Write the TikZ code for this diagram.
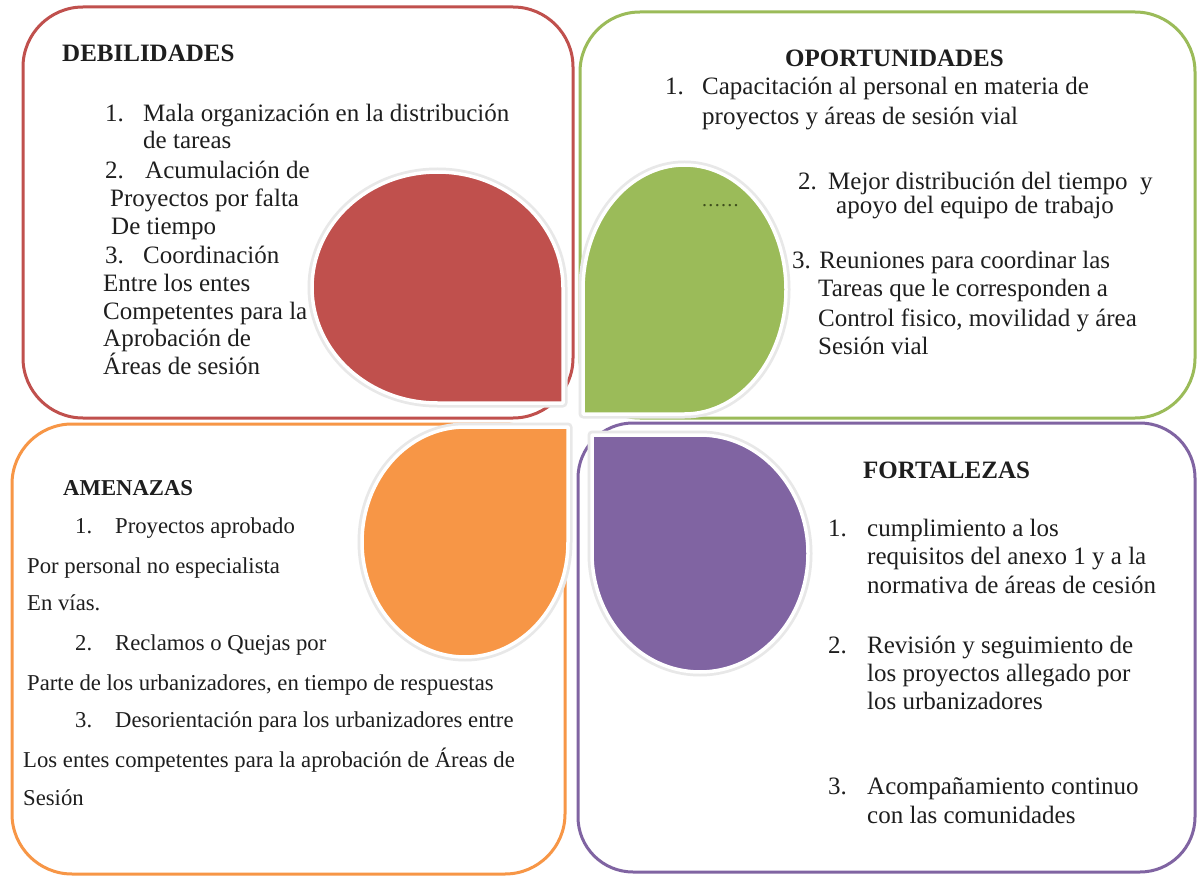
\documentclass[tikz,border=0pt]{standalone}
\usepackage{fontspec}
\setmainfont{Liberation Serif}
\definecolor{cred}{HTML}{C0504D}
\definecolor{cgreen}{HTML}{9BBB59}
\definecolor{corange}{HTML}{F79646}
\definecolor{cpurple}{HTML}{8064A2}
\definecolor{ctext}{HTML}{1E1E1E}
\definecolor{cdots}{HTML}{3F4F1E}
\begin{document}
\begin{tikzpicture}[x=1pt,y=-1pt,
  txt/.style={anchor=west, inner sep=0pt, font=\fontsize{25}{30}\selectfont, text=ctext, text height=17.5pt, text depth=5pt},
  stxt/.style={anchor=west, inner sep=0pt, font=\fontsize{22.7}{27}\selectfont, text=ctext, text height=16pt, text depth=4.5pt},
  head/.style={txt, font=\fontsize{25}{30}\selectfont\bfseries},
  shead/.style={stxt, font=\fontsize{22.7}{27}\selectfont\bfseries},
  box/.style={line width=3pt, rounded corners=60pt},
  petalshadow/.style={draw=black!9, line width=9pt, line join=round},
  petal/.style={draw=white, line width=3.5pt, line join=round}]
\path[use as bounding box, fill=white] (0,0) rectangle (1197,877);

% boxes
\draw[box, draw=cred] (23,7) rectangle (573,418);
\draw[box, draw=cgreen] (580,12) rectangle (1195,418);
\draw[box, draw=corange] (12,424) rectangle (565,874);
\draw[box, draw=cpurple, rounded corners=55pt] (578,423) rectangle (1195,872);

% petals
\path[petalshadow] (437.5,403) arc[start angle=90, end angle=360, x radius=125.5, y radius=115.5] -- (563,403) -- cycle;
\path[petalshadow] (684.5,414) arc[start angle=90, end angle=-180, x radius=101.5, y radius=124.5] -- (583,414) -- cycle;
\path[petalshadow] (568,542) arc[start angle=0, end angle=270, x radius=103, y radius=115] -- (568,427) -- cycle;
\path[petalshadow] (700,435) arc[start angle=-90, end angle=180, x radius=108, y radius=118.5] -- (592,435) -- cycle;
\path[petal, fill=cred] (437.5,403) arc[start angle=90, end angle=360, x radius=125.5, y radius=115.5] -- (563,403) -- cycle;
\path[petal, fill=cgreen] (684.5,414) arc[start angle=90, end angle=-180, x radius=101.5, y radius=124.5] -- (583,414) -- cycle;
\path[petal, fill=corange] (568,542) arc[start angle=0, end angle=270, x radius=103, y radius=115] -- (568,427) -- cycle;
\path[petal, fill=cpurple] (700,435) arc[start angle=-90, end angle=180, x radius=108, y radius=118.5] -- (592,435) -- cycle;

% DEBILIDADES
\node[head] (dh) at (62,55) {DEBILIDADES};
\node[txt] (d1n) at (105,115) {1.};
\node[txt] (d1) at (143,115) {Mala organización en la distribución};
\node[txt] (d1b) at (143,142) {de tareas};
\node[txt] (d2n) at (105,172) {2.};
\node[txt] (d2) at (145,172) {Acumulación de};
\node[txt] (d2b) at (110,200) {Proyectos por falta};
\node[txt] (d2c) at (111,228) {De tiempo};
\node[txt] (d3n) at (105,257) {3.};
\node[txt] (d3) at (143,257) {Coordinación};
\node[txt] (d3b) at (103,285) {Entre los entes};
\node[txt] (d3c) at (103,313) {Competentes para la};
\node[txt] (d3d) at (103,340) {Aprobación de};
\node[txt] (d3e) at (103,368) {Áreas de sesión};

% OPORTUNIDADES
\node[head] (oh) at (785,60) {OPORTUNIDADES};
\node[txt] (o1n) at (665,88) {1.};
\node[txt] (o1) at (702,88) {Capacitación al personal en materia de};
\node[txt] (o1b) at (702,118) {proyectos y áreas de sesión vial};
\node[txt] (o2n) at (798,183) {2.};
\node[txt] (o2) at (828,183) {Mejor distribución del tiempo\ \ y};
\node[txt] (o2b) at (836,207) {apoyo del equipo de trabajo};
\node[anchor=west, inner sep=0pt, font=\fontsize{20}{22}\selectfont, text=cdots] (dots) at (703,206) {\kern-1pt.\kern1.3pt.\kern1.3pt.\kern1.3pt.\kern1.3pt.\kern1.3pt.};
\node[txt] (o3) at (792,262) {3. Reuniones para coordinar las};
\node[txt] (o3b) at (818,290) {Tareas que le corresponden a};
\node[txt] (o3c) at (818,320) {Control fisico, movilidad y área};
\node[txt] (o3d) at (818,348) {Sesión vial};

% AMENAZAS
\node[shead] (ah) at (63,490) {AMENAZAS};
\node[stxt] (a1n) at (75,528) {1.};
\node[stxt] (a1) at (115,528) {Proyectos aprobado};
\node[stxt] (a1b) at (27,568) {Por personal no especialista};
\node[stxt] (a1c) at (27,605) {En vías.};
\node[stxt] (a2n) at (75,645) {2.};
\node[stxt] (a2) at (115,645) {Reclamos o Quejas por};
\node[stxt] (a2b) at (27,685) {Parte de los urbanizadores, en tiempo de respuestas};
\node[stxt] (a3n) at (75,722) {3.};
\node[stxt] (a3) at (115,722) {Desorientación para los urbanizadores entre};
\node[stxt] (a3b) at (23,762) {Los entes competentes para la aprobación de Áreas de};
\node[stxt] (a3c) at (23,800) {Sesión};

% FORTALEZAS
\node[head] (fh) at (863,472) {FORTALEZAS};
\node[txt] (f1n) at (828,530) {1.};
\node[txt] (f1) at (867,530) {cumplimiento a los};
\node[txt] (f1b) at (867,558) {requisitos del anexo 1 y a la};
\node[txt] (f1c) at (867,587) {normativa de áreas de cesión};
\node[txt] (f2n) at (828,647) {2.};
\node[txt] (f2) at (867,647) {Revisión y seguimiento de};
\node[txt] (f2b) at (867,675) {los proyectos allegado por};
\node[txt] (f2c) at (867,703) {los urbanizadores};
\node[txt] (f3n) at (828,788) {3.};
\node[txt] (f3) at (867,788) {Acompañamiento continuo};
\node[txt] (f3b) at (867,817) {con las comunidades};
\end{tikzpicture}
\end{document}
